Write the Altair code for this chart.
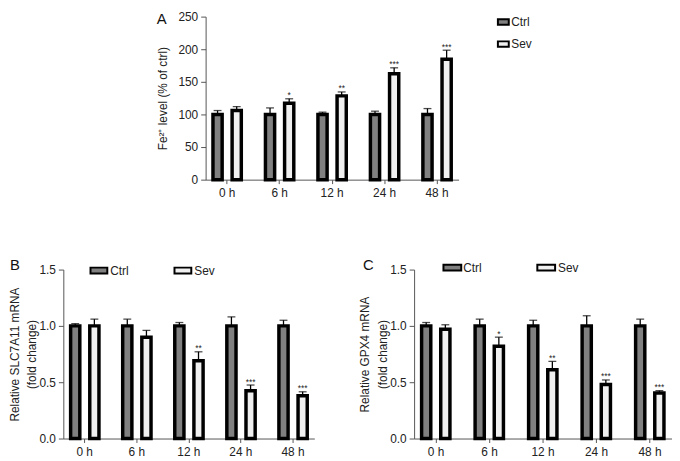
import altair as alt
import pandas as pd

FONT = "Liberation Sans"

times = ["0 h", "6 h", "12 h", "24 h", "48 h"]
groups = ["Ctrl", "Sev"]
fill_colors = ["#808080", "#f0f0f0"]

# Panel A: Fe2+ level (% of ctrl)
a_ctrl = [100, 100, 100, 100, 100]
a_ctrl_err = [6, 10, 3.5, 5, 9]
a_sev = [106, 117, 128.5, 162.5, 184.5]
a_sev_err = [6, 7, 6, 9, 14]
a_stars = ["", "*", "**", "***", "***"]

# Panel B: Relative SLC7A11 mRNA
b_ctrl = [1.0, 1.0, 1.0, 1.0, 1.0]
b_ctrl_err = [0.02, 0.06, 0.03, 0.08, 0.05]
b_sev = [1.0, 0.90, 0.69, 0.425, 0.38]
b_sev_err = [0.06, 0.06, 0.08, 0.05, 0.035]
b_stars = ["", "", "**", "***", "***"]

# Panel C: Relative GPX4 mRNA
c_ctrl = [1.0, 1.0, 1.0, 1.0, 1.0]
c_ctrl_err = [0.03, 0.06, 0.05, 0.09, 0.06]
c_sev = [0.97, 0.82, 0.61, 0.48, 0.405]
c_sev_err = [0.04, 0.08, 0.075, 0.04, 0.02]
c_stars = ["", "*", "**", "***", "***"]


def panel_df(ctrl, ctrl_err, sev, sev_err, stars):
    rows = []
    for i, t in enumerate(times):
        rows.append(dict(time=t, group="Ctrl", value=ctrl[i],
                         upper=ctrl[i] + ctrl_err[i], star=""))
        rows.append(dict(time=t, group="Sev", value=sev[i],
                         upper=sev[i] + sev_err[i], star=stars[i]))
    return pd.DataFrame(rows)


def legend_layers(entries, sym_w, ratio):
    """entries: list of (group, symbol_x, text_x, y) in pixels of the panel."""
    layers = []
    for g, sx, tx, yy in entries:
        d = alt.Chart(pd.DataFrame({"g": [g]}))
        color = fill_colors[groups.index(g)]
        layers.append(d.mark_point(
            shape=f"M-1,-{ratio}H1V{ratio}H-1Z", size=sym_w * sym_w,
            filled=True, fill=color, stroke="black", strokeWidth=2,
            opacity=1).encode(x=alt.value(sx), y=alt.value(yy)))
        layers.append(d.mark_text(
            font=FONT, fontSize=12, align="left", baseline="middle",
            color="#222").encode(text="g:N", x=alt.value(tx),
                                 y=alt.value(yy)))
    return layers


def panel(df, ymax, yvals, yfmt, ytitle, title_pad, letter, ldx, ldy,
          leg, w, h):
    x = alt.X("time:N", sort=times,
              scale=alt.Scale(paddingInner=0.46, paddingOuter=0.14),
              axis=alt.Axis(title=None, labelAngle=0, labelFont=FONT,
                            labelFontSize=12, labelColor="#222",
                            labelPadding=4, tickSize=4, tickColor="#555",
                            domainColor="#555", grid=False))
    xo = alt.XOffset("group:N", sort=groups,
                     scale=alt.Scale(paddingInner=0.52, paddingOuter=0))
    yaxis = alt.Axis(title=ytitle, values=yvals, format=yfmt, grid=False,
                     labelFont=FONT, labelFontSize=12, labelColor="#222",
                     labelPadding=3, tickSize=5, tickColor="#555",
                     domainColor="#555", titleFont=FONT, titleFontSize=12,
                     titleFontWeight="normal", titleColor="#222",
                     titlePadding=title_pad, titleLineHeight=18)
    yscale = alt.Scale(domain=[0, ymax], nice=False, zero=True)
    y = alt.Y("value:Q", scale=yscale, axis=yaxis)
    yu = alt.Y("upper:Q", scale=yscale, axis=yaxis)
    base = alt.Chart(df)
    bars = base.mark_bar(stroke="black", strokeWidth=3.5).encode(
        x=x, xOffset=xo, y=y,
        fill=alt.Fill("group:N", sort=groups,
                      scale=alt.Scale(domain=groups, range=fill_colors),
                      legend=None))
    rules = base.mark_rule(color="black", strokeWidth=1.3).encode(
        x=x, xOffset=xo, y=y, y2="upper:Q")
    caps = base.mark_tick(color="black", thickness=1.3, size=8,
                          orient="horizontal").encode(x=x, xOffset=xo, y=yu)
    stars = base.mark_text(font=FONT, fontSize=8.5, baseline="alphabetic",
                           dy=-0.5, color="#222").encode(
        x=x, xOffset=xo, y=yu, text="star:N")
    lab = alt.Chart(pd.DataFrame({"l": [letter]})).mark_text(
        font=FONT, fontSize=15, align="center", baseline="middle",
        color="#111").encode(text="l:N", x=alt.value(ldx), y=alt.value(ldy))
    return alt.layer(bars, rules, caps, stars, lab, *leg).properties(
        width=w, height=h)


df_a = panel_df(a_ctrl, a_ctrl_err, a_sev, a_sev_err, a_stars)
df_b = panel_df(b_ctrl, b_ctrl_err, b_sev, b_sev_err, b_stars)
df_c = panel_df(c_ctrl, c_ctrl_err, c_sev, c_sev_err, c_stars)

leg_a = legend_layers([("Ctrl", 301.3, 309.3, 5.5),
                       ("Sev", 301.3, 309.3, 27.8)], 11, 0.5)
leg_b = legend_layers([("Ctrl", 36, 47.5, 1),
                       ("Sev", 121, 132.5, 1)], 17, 0.35)
leg_c = legend_layers([("Ctrl", 38.7, 49.7, -2),
                       ("Sev", 133.7, 145.7, -2)], 18, 0.33)

chart_a = panel(df_a, 250, [0, 50, 100, 150, 200, 250], "d",
                "Fe²⁺ level (% of ctrl)", 9, "A", -44.4, 2, leg_a,
                256, 165)
chart_b = panel(df_b, 1.5, [0, 0.5, 1.0, 1.5], ".1f",
                ["Relative SLC7A11 mRNA", "(fold change)"], 0, "B", -49, -5,
                leg_b, 254, 171)
chart_c = panel(df_c, 1.5, [0, 0.5, 1.0, 1.5], ".1f",
                ["Relative GPX4 mRNA", "(fold change)"], 0, "C", -46.3, -5,
                leg_c, 261, 171)

spacer = alt.Chart(pd.DataFrame({"s": [""]})).mark_text().encode(
    text="s:N", x=alt.value(0), y=alt.value(0)).properties(width=93,
                                                          height=10)

top = alt.hconcat(spacer, chart_a, spacing=0)
bottom = alt.hconcat(chart_b, chart_c, spacing=45)

chart = alt.vconcat(top, bottom, spacing=60).properties(
    padding=0).configure_view(stroke=None)

chart.save("out.html", embed_options={"renderer": "svg", "actions": False})
